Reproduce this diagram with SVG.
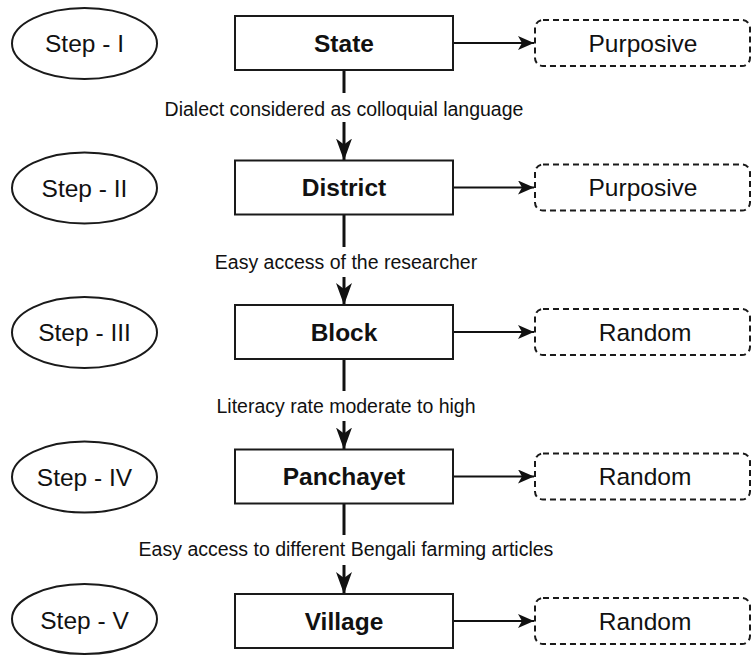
<svg xmlns="http://www.w3.org/2000/svg" width="752" height="655" viewBox="0 0 752 655">
  <style>
    .step { fill: #ffffff; stroke: #1a1a1a; stroke-width: 2; }
    .level { fill: #ffffff; stroke: #1a1a1a; stroke-width: 2; }
    .method { fill: #ffffff; stroke: #1a1a1a; stroke-width: 2; stroke-dasharray: 6 4; }
    .t { font-family: "Liberation Sans", Arial, Helvetica, sans-serif; fill: #111111; text-anchor: middle; dominant-baseline: central; }
    .tstep { font-size: 24.5px; }
    .tlevel { font-size: 24.5px; font-weight: bold; }
    .tmethod { font-size: 24.5px; }
    .tlabel { font-size: 19.5px; }
    .down { stroke: #111111; stroke-width: 3; fill: none; }
    .side { stroke: #111111; stroke-width: 2; fill: none; }
  </style>
  <defs>
    <marker id="headBig" viewBox="0 0 22 16" markerWidth="22" markerHeight="16" refX="22" refY="8" orient="auto" markerUnits="userSpaceOnUse">
      <path d="M0,0 L22,8 L0,16 L6,8 Z" fill="#111111"/>
    </marker>
    <marker id="headSmall" viewBox="0 0 16 14" markerWidth="16" markerHeight="14" refX="16" refY="7" orient="auto" markerUnits="userSpaceOnUse">
      <path d="M0,0 L16,7 L0,14 L4,7 Z" fill="#111111"/>
    </marker>
  </defs>

  <!-- connectors -->
  <g id="connectors">
    <!-- State -> District -->
    <line class="down" x1="344" y1="70" x2="344" y2="93"/>
    <line class="down" x1="344" y1="122" x2="344" y2="160.5" marker-end="url(#headBig)"/>
    <text class="t tlabel" x="344" y="109">Dialect considered as colloquial language</text>
    <!-- District -> Block -->
    <line class="down" x1="344" y1="214.5" x2="344" y2="247"/>
    <line class="down" x1="344" y1="277" x2="344" y2="305" marker-end="url(#headBig)"/>
    <text class="t tlabel" x="346" y="262">Easy access of the researcher</text>
    <!-- Block -> Panchayet -->
    <line class="down" x1="344" y1="359" x2="344" y2="391"/>
    <line class="down" x1="344" y1="421" x2="344" y2="449.5" marker-end="url(#headBig)"/>
    <text class="t tlabel" x="346" y="406">Literacy rate moderate to high</text>
    <!-- Panchayet -> Village -->
    <line class="down" x1="344" y1="503.5" x2="344" y2="535"/>
    <line class="down" x1="344" y1="565" x2="344" y2="594" marker-end="url(#headBig)"/>
    <text class="t tlabel" x="346" y="549">Easy access to different Bengali farming articles</text>

    <!-- levels -> sampling method -->
    <line class="side" x1="453" y1="43" x2="534" y2="43" marker-end="url(#headSmall)"/>
    <line class="side" x1="453" y1="187.5" x2="534" y2="187.5" marker-end="url(#headSmall)"/>
    <line class="side" x1="453" y1="332" x2="534" y2="332" marker-end="url(#headSmall)"/>
    <line class="side" x1="453" y1="476.5" x2="534" y2="476.5" marker-end="url(#headSmall)"/>
    <line class="side" x1="453" y1="621" x2="534" y2="621" marker-end="url(#headSmall)"/>
  </g>

  <!-- row 1 -->
  <g id="step1">
    <ellipse class="step" cx="84.5" cy="43.5" rx="72.5" ry="35.5"/>
    <text class="t tstep" x="84.5" y="43.5">Step - I</text>
  </g>
  <g id="state">
    <rect class="level" x="235" y="16" width="218" height="54"/>
    <text class="t tlevel" x="344" y="43">State</text>
  </g>
  <g id="method1">
    <rect class="method" x="535" y="20" width="215" height="46" rx="8"/>
    <text class="t tmethod" x="643" y="43">Purposive</text>
  </g>

  <!-- row 2 -->
  <g id="step2">
    <ellipse class="step" cx="84.5" cy="188" rx="72.5" ry="35.5"/>
    <text class="t tstep" x="84.5" y="188">Step - II</text>
  </g>
  <g id="district">
    <rect class="level" x="235" y="160.5" width="218" height="54"/>
    <text class="t tlevel" x="344" y="187.5">District</text>
  </g>
  <g id="method2">
    <rect class="method" x="535" y="164.5" width="215" height="46" rx="8"/>
    <text class="t tmethod" x="643" y="187.5">Purposive</text>
  </g>

  <!-- row 3 -->
  <g id="step3">
    <ellipse class="step" cx="84.5" cy="332.5" rx="72.5" ry="35.5"/>
    <text class="t tstep" x="84.5" y="332.5">Step - III</text>
  </g>
  <g id="block">
    <rect class="level" x="235" y="305" width="218" height="54"/>
    <text class="t tlevel" x="344" y="332">Block</text>
  </g>
  <g id="method3">
    <rect class="method" x="535" y="309" width="215" height="46" rx="8"/>
    <text class="t tmethod" x="645" y="332">Random</text>
  </g>

  <!-- row 4 -->
  <g id="step4">
    <ellipse class="step" cx="84.5" cy="477" rx="72.5" ry="35.5"/>
    <text class="t tstep" x="84.5" y="477">Step - IV</text>
  </g>
  <g id="panchayet">
    <rect class="level" x="235" y="449.5" width="218" height="54"/>
    <text class="t tlevel" x="344" y="476.5">Panchayet</text>
  </g>
  <g id="method4">
    <rect class="method" x="535" y="453.5" width="215" height="46" rx="8"/>
    <text class="t tmethod" x="645" y="476.5">Random</text>
  </g>

  <!-- row 5 -->
  <g id="step5">
    <ellipse class="step" cx="84.5" cy="619" rx="72.5" ry="35"/>
    <text class="t tstep" x="84.5" y="620">Step - V</text>
  </g>
  <g id="village">
    <rect class="level" x="235" y="594" width="218" height="54"/>
    <text class="t tlevel" x="344" y="621">Village</text>
  </g>
  <g id="method5">
    <rect class="method" x="535" y="598" width="215" height="46" rx="8"/>
    <text class="t tmethod" x="645" y="621">Random</text>
  </g>
</svg>
